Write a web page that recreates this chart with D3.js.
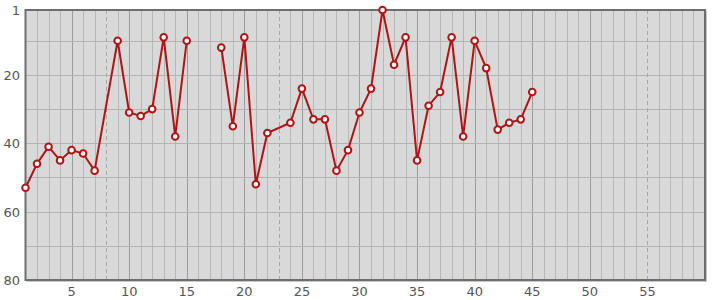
<!DOCTYPE html>
<html>
<head>
<meta charset="utf-8">
<script src="https://cdn.jsdelivr.net/npm/d3@7"></script>
<style>
	body { margin: 0; background: #fff; }
	text { font-family: "DejaVu Sans", sans-serif; font-size: 13px; fill: #555; }
</style>
</head>
<body>
<svg id="chart" width="715" height="300"></svg>
<script>
// positions 1..45 (8 and 23 have no value but the line runs through; 16-17 break the line)
var positions = [1, 2, 3, 4, 5, 6, 7, 9, 10, 11, 12, 13, 14, 15, 16, 17, 18, 19, 20, 21, 22, 24, 25,
	26, 27, 28, 29, 30, 31, 32, 33, 34, 35, 36, 37, 38, 39, 40, 41, 42, 43, 44, 45];
var ranks = [53, 46, 41, 45, 42, 43, 48, 10, 31, 32, 30, 9, 38, 10, null, null, 12, 35, 9, 52, 37, 34, 24,
	33, 33, 48, 42, 31, 24, 1, 17, 9, 45, 29, 25, 9, 38, 10, 18, 36, 34, 33, 25];
var markers = [8, 23, 55];
var xTicks = [5, 10, 15, 20, 25, 30, 35, 40, 45, 50, 55];
var yTicks = [1, 20, 40, 60, 80];
var yGrid = [10, 20, 30, 40, 50, 60, 70];

var svg = d3.select("#chart");
var plotLeft = 25.5, plotTop = 10, plotRight = 705, plotBottom = 280;

var x = d3.scaleLinear().domain([1, 60]).range([plotLeft, plotRight]);
var y = d3.scaleLinear().domain([1, 80]).range([plotTop, plotBottom]);

var data = positions.map(function(p, i) {
	return { pos: p, rank: ranks[i] };
});

// shadow + background
svg.append("rect")
	.attr("x", plotLeft + 1).attr("y", plotTop + 1)
	.attr("width", plotRight - plotLeft + 1).attr("height", plotBottom - plotTop + 1)
	.attr("fill", "#c8c8c8");
svg.append("rect")
	.attr("x", plotLeft).attr("y", plotTop)
	.attr("width", plotRight - plotLeft).attr("height", plotBottom - plotTop)
	.attr("fill", "#d9d9d9");

// vertical grid
var g_grid = svg.append("g").attr("class", "grid");
g_grid.selectAll(".vline")
	.data(d3.range(2, 60).filter(function(d) { return markers.indexOf(d) < 0; }))
	.enter()
	.append("line")
	.attr("x1", (d) => Math.round(x(d)) + 0.5)
	.attr("x2", (d) => Math.round(x(d)) + 0.5)
	.attr("y1", plotTop).attr("y2", plotBottom)
	.attr("stroke", (d) => d % 5 === 0 ? "#9c9c9c" : "#b8b8b8")
	.attr("stroke-width", 1);

g_grid.selectAll(".hline")
	.data(yGrid)
	.enter()
	.append("line")
	.attr("x1", plotLeft).attr("x2", plotRight)
	.attr("y1", (d) => Math.round(y(d)) + 0.5)
	.attr("y2", (d) => Math.round(y(d)) + 0.5)
	.attr("stroke", "#b3b3b3")
	.attr("stroke-width", 1);

g_grid.selectAll(".marker")
	.data(markers)
	.enter()
	.append("line")
	.attr("x1", (d) => Math.round(x(d)) + 0.5)
	.attr("x2", (d) => Math.round(x(d)) + 0.5)
	.attr("y1", plotTop).attr("y2", plotBottom)
	.attr("stroke", "#a8a8a8")
	.attr("stroke-dasharray", "4,3");

// frame
svg.append("rect")
	.attr("x", plotLeft).attr("y", plotTop)
	.attr("width", plotRight - plotLeft).attr("height", plotBottom - plotTop)
	.attr("fill", "none")
	.attr("stroke", "#6e6e6e")
	.attr("stroke-width", 2);

// line
var line = d3.line()
	.defined((d) => d.rank !== null)
	.x((d) => x(d.pos))
	.y((d) => y(d.rank));

svg.append("path")
	.datum(data)
	.attr("d", line)
	.attr("fill", "none")
	.attr("stroke", "#b01414")
	.attr("stroke-width", 2);

svg.append("g")
	.selectAll("circle")
	.data(data.filter((d) => d.rank !== null))
	.enter()
	.append("circle")
	.attr("cx", (d) => x(d.pos))
	.attr("cy", (d) => y(d.rank))
	.attr("r", 3.3)
	.attr("fill", "#fff")
	.attr("stroke", "#b01414")
	.attr("stroke-width", 2);

// axes labels
svg.append("g")
	.selectAll("text")
	.data(xTicks)
	.enter()
	.append("text")
	.attr("x", (d) => x(d))
	.attr("y", 296)
	.attr("text-anchor", "middle")
	.text((d) => d);

svg.append("g")
	.selectAll("text")
	.data(yTicks)
	.enter()
	.append("text")
	.attr("x", 20)
	.attr("y", (d) => y(d) + 5)
	.attr("text-anchor", "end")
	.text((d) => d);
</script>
</body>
</html>
